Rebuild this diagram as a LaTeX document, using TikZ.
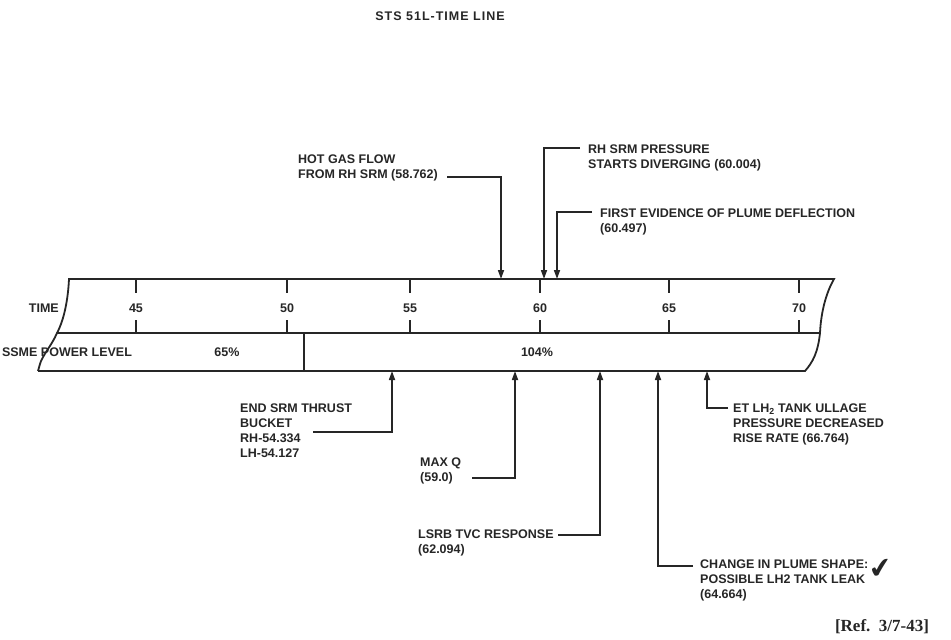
\documentclass[tikz,border=0pt]{standalone}
\usepackage{fontspec}
\usepackage{xcolor}
\usetikzlibrary{positioning,arrows.meta}
\newfontfamily\lblfont{Liberation Sans}
\newfontfamily\titlefont[LetterSpace=8]{Liberation Sans}
\newfontfamily\reffont{Liberation Serif}
\newfontfamily\symfont{DejaVu Sans}
\definecolor{ink}{HTML}{262626}
\tikzset{
  lbl/.style={font=\lblfont\bfseries\fontsize{12.5}{15}\selectfont, text=ink,
              inner sep=0pt, align=left},
  num/.style={lbl},
  ar/.style={-{Triangle[length=9pt,width=6pt]}, line width=1.6pt, draw=ink},
  band/.style={line width=1.8pt, draw=ink},
  tick/.style={line width=1.8pt, draw=ink},
  refl/.style={font=\reffont\bfseries\fontsize{17}{19}\selectfont, text=ink, inner sep=0pt},
}

\begin{document}
\begin{tikzpicture}[x=1pt,y=-1pt]
\useasboundingbox (0,0) rectangle (951,640);

% --- TITLE ---
\node[lbl, font=\titlefont\bfseries\fontsize{12.5}{15}\selectfont] (title) at (440,16) {STS 51L-TIME LINE};

% --- BAND ---
\coordinate (tl) at (69,279);
\coordinate (tr) at (834,279);
\coordinate (ml) at (57,333);
\coordinate (mr) at (820,333);
\coordinate (bl) at (38,371);
\coordinate (br) at (805,371);
\draw[band] (bl) -- (br) .. controls (813,362) and (818,352) .. (mr)
  .. controls (821,312) and (826,293) .. (tr) -- (tl)
  .. controls (68,300) and (64,320) .. (ml)
  .. controls (52,345) and (42,356) .. (40,364) -- (bl);
\draw[band] (ml) -- (mr);
\coordinate (cut) at (304,333);
\coordinate (cutb) at (304,371);
\draw[band] (cut) -- (cutb);

\foreach \x/\t in {136/45, 287/50, 410/55, 540/60, 669/65, 799/70} {
  \draw[tick] (\x,279) -- (\x,293);
  \draw[tick] (\x,320) -- (\x,333);
  \node[num] (n\t) at (\x,308) {\t};
}

\node[lbl, anchor=east] (time) at (59,308) {TIME};
\node[lbl] (ssme) at (67,352) {SSME POWER LEVEL};
\node[lbl] (p65) at (227,352) {65\%};
\node[lbl] (p104) at (537,352) {104\%};

% --- ABOVE: events ---
\node[lbl, anchor=north west] (hot) at (298,155) {HOT GAS FLOW\\FROM RH SRM (58.762)};
\coordinate (hot0) at (447,177);
\coordinate (hot1) at (501,279);
\draw[ar] (hot0) -| (hot1);

\node[lbl, anchor=north west] (div) at (588,145) {RH SRM PRESSURE\\STARTS DIVERGING (60.004)};
\coordinate (div0) at (580,148);
\coordinate (div1) at (544,279);
\draw[ar] (div0) -| (div1);

\node[lbl, anchor=north west] (plume) at (600,209) {FIRST EVIDENCE OF PLUME DEFLECTION\\(60.497)};
\coordinate (plume0) at (592,212);
\coordinate (plume1) at (557,279);
\draw[ar] (plume0) -| (plume1);

% --- BELOW: events ---
\node[lbl, anchor=north west] (bucket) at (240,404) {END SRM THRUST\\BUCKET\\RH-54.334\\LH-54.127};
\coordinate (bucket0) at (313,432);
\coordinate (bucket1) at (392,371);
\draw[ar] (bucket0) -| (bucket1);

\node[lbl, anchor=north west] (maxq) at (420,458) {MAX Q\\(59.0)};
\coordinate (maxq0) at (472,478);
\coordinate (maxq1) at (515,371);
\draw[ar] (maxq0) -| (maxq1);

\node[lbl, anchor=north west] (tvc) at (418,530) {LSRB TVC RESPONSE\\(62.094)};
\coordinate (tvc0) at (558,535);
\coordinate (tvc1) at (600,371);
\draw[ar] (tvc0) -| (tvc1);

\node[lbl, anchor=north west] (leak) at (700,560) {CHANGE IN PLUME SHAPE:\\POSSIBLE LH2 TANK LEAK\\(64.664)};
\coordinate (leak0) at (693,566);
\coordinate (leak1) at (658,371);
\draw[ar] (leak0) -| (leak1);
\node[font=\symfont\fontsize{28}{28}\selectfont, text=ink, rotate=8] (chk) at (881,569) {✔};

\node[lbl, anchor=north west] (ullage) at (733,404) {ET LH\textsubscript{2} TANK ULLAGE\\PRESSURE DECREASED\\RISE RATE (66.764)};
\coordinate (ullage0) at (728,408);
\coordinate (ullage1) at (707,371);
\draw[ar] (ullage0) -| (ullage1);

% --- REF ---
\node[refl] (ref) at (882,627) {[Ref.\ \ 3/7-43]};

\end{tikzpicture}
\end{document}
